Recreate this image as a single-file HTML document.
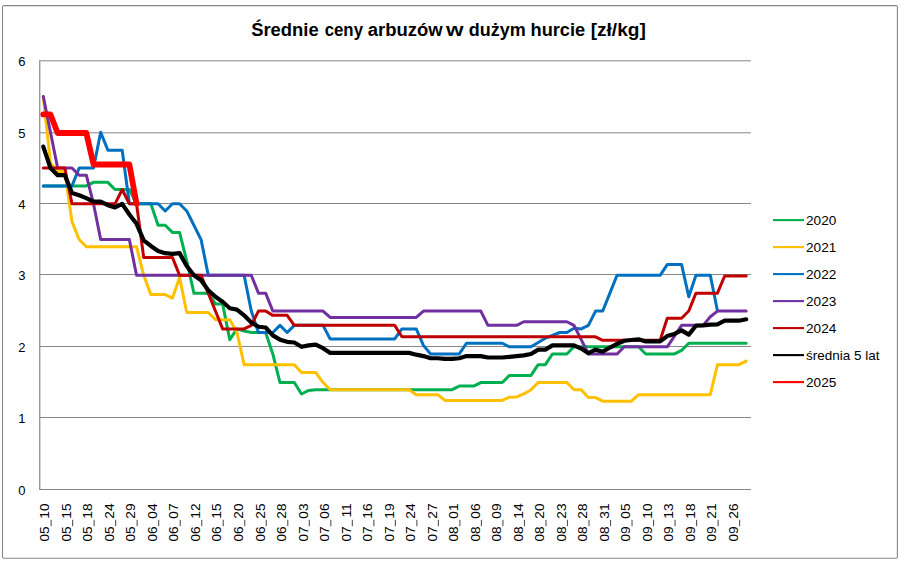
<!DOCTYPE html>
<html><head><meta charset="utf-8"><title>chart</title>
<style>
html,body{margin:0;padding:0;background:#fff;}
body{width:900px;height:562px;overflow:hidden;font-family:"Liberation Sans",sans-serif;}
svg{display:block;}
text{font-family:"Liberation Sans",sans-serif;fill:#000;}
</style></head><body>
<svg width="900" height="562" viewBox="0 0 900 562">
<rect x="0" y="0" width="900" height="562" fill="#fff"/>
<rect x="2.5" y="5.6" width="894.9" height="552.7" rx="1.5" ry="1.5" fill="#fff" stroke="#868686" stroke-width="1.1"/>

<line x1="39.75" y1="489.50" x2="751.00" y2="489.50" stroke="#868686" stroke-width="1"/>
<line x1="39.75" y1="417.50" x2="751.00" y2="417.50" stroke="#868686" stroke-width="1"/>
<line x1="39.75" y1="346.50" x2="751.00" y2="346.50" stroke="#868686" stroke-width="1"/>
<line x1="39.75" y1="274.50" x2="751.00" y2="274.50" stroke="#868686" stroke-width="1"/>
<line x1="39.75" y1="203.50" x2="751.00" y2="203.50" stroke="#868686" stroke-width="1"/>
<line x1="39.75" y1="132.80" x2="751.00" y2="132.80" stroke="#868686" stroke-width="1"/>
<line x1="39.75" y1="60.80" x2="751.00" y2="60.80" stroke="#868686" stroke-width="1"/>
<line x1="39.75" y1="60.30" x2="39.75" y2="490.00" stroke="#868686" stroke-width="1.2"/>
<text x="21.9" y="495.10" font-size="13" text-anchor="middle">0</text>
<text x="21.9" y="423.10" font-size="13" text-anchor="middle">1</text>
<text x="21.9" y="352.10" font-size="13" text-anchor="middle">2</text>
<text x="21.9" y="280.10" font-size="13" text-anchor="middle">3</text>
<text x="21.9" y="209.10" font-size="13" text-anchor="middle">4</text>
<text x="21.9" y="138.40" font-size="13" text-anchor="middle">5</text>
<text x="21.9" y="66.40" font-size="13" text-anchor="middle">6</text>
<g transform="translate(49.35,503.9) rotate(-90)" font-size="13.7"><text x="0.5" y="0" text-anchor="end">10</text><text x="-37.7" y="0" text-anchor="start">05</text><rect x="-22.3" y="1.2" width="6.4" height="1.1" fill="#555"/></g>
<g transform="translate(70.87,503.9) rotate(-90)" font-size="13.7"><text x="0.5" y="0" text-anchor="end">15</text><text x="-37.7" y="0" text-anchor="start">05</text><rect x="-22.3" y="1.2" width="6.4" height="1.1" fill="#555"/></g>
<g transform="translate(92.38,503.9) rotate(-90)" font-size="13.7"><text x="0.5" y="0" text-anchor="end">18</text><text x="-37.7" y="0" text-anchor="start">05</text><rect x="-22.3" y="1.2" width="6.4" height="1.1" fill="#555"/></g>
<g transform="translate(113.90,503.9) rotate(-90)" font-size="13.7"><text x="0.5" y="0" text-anchor="end">24</text><text x="-37.7" y="0" text-anchor="start">05</text><rect x="-22.3" y="1.2" width="6.4" height="1.1" fill="#555"/></g>
<g transform="translate(135.41,503.9) rotate(-90)" font-size="13.7"><text x="0.5" y="0" text-anchor="end">29</text><text x="-37.7" y="0" text-anchor="start">05</text><rect x="-22.3" y="1.2" width="6.4" height="1.1" fill="#555"/></g>
<g transform="translate(156.93,503.9) rotate(-90)" font-size="13.7"><text x="0.5" y="0" text-anchor="end">04</text><text x="-37.7" y="0" text-anchor="start">06</text><rect x="-22.3" y="1.2" width="6.4" height="1.1" fill="#555"/></g>
<g transform="translate(178.45,503.9) rotate(-90)" font-size="13.7"><text x="0.5" y="0" text-anchor="end">07</text><text x="-37.7" y="0" text-anchor="start">06</text><rect x="-22.3" y="1.2" width="6.4" height="1.1" fill="#555"/></g>
<g transform="translate(199.96,503.9) rotate(-90)" font-size="13.7"><text x="0.5" y="0" text-anchor="end">12</text><text x="-37.7" y="0" text-anchor="start">06</text><rect x="-22.3" y="1.2" width="6.4" height="1.1" fill="#555"/></g>
<g transform="translate(221.48,503.9) rotate(-90)" font-size="13.7"><text x="0.5" y="0" text-anchor="end">15</text><text x="-37.7" y="0" text-anchor="start">06</text><rect x="-22.3" y="1.2" width="6.4" height="1.1" fill="#555"/></g>
<g transform="translate(242.99,503.9) rotate(-90)" font-size="13.7"><text x="0.5" y="0" text-anchor="end">20</text><text x="-37.7" y="0" text-anchor="start">06</text><rect x="-22.3" y="1.2" width="6.4" height="1.1" fill="#555"/></g>
<g transform="translate(264.51,503.9) rotate(-90)" font-size="13.7"><text x="0.5" y="0" text-anchor="end">25</text><text x="-37.7" y="0" text-anchor="start">06</text><rect x="-22.3" y="1.2" width="6.4" height="1.1" fill="#555"/></g>
<g transform="translate(286.03,503.9) rotate(-90)" font-size="13.7"><text x="0.5" y="0" text-anchor="end">28</text><text x="-37.7" y="0" text-anchor="start">06</text><rect x="-22.3" y="1.2" width="6.4" height="1.1" fill="#555"/></g>
<g transform="translate(307.54,503.9) rotate(-90)" font-size="13.7"><text x="0.5" y="0" text-anchor="end">03</text><text x="-37.7" y="0" text-anchor="start">07</text><rect x="-22.3" y="1.2" width="6.4" height="1.1" fill="#555"/></g>
<g transform="translate(329.06,503.9) rotate(-90)" font-size="13.7"><text x="0.5" y="0" text-anchor="end">06</text><text x="-37.7" y="0" text-anchor="start">07</text><rect x="-22.3" y="1.2" width="6.4" height="1.1" fill="#555"/></g>
<g transform="translate(350.57,503.9) rotate(-90)" font-size="13.7"><text x="0.5" y="0" text-anchor="end">11</text><text x="-37.7" y="0" text-anchor="start">07</text><rect x="-22.3" y="1.2" width="6.4" height="1.1" fill="#555"/></g>
<g transform="translate(372.09,503.9) rotate(-90)" font-size="13.7"><text x="0.5" y="0" text-anchor="end">16</text><text x="-37.7" y="0" text-anchor="start">07</text><rect x="-22.3" y="1.2" width="6.4" height="1.1" fill="#555"/></g>
<g transform="translate(393.61,503.9) rotate(-90)" font-size="13.7"><text x="0.5" y="0" text-anchor="end">19</text><text x="-37.7" y="0" text-anchor="start">07</text><rect x="-22.3" y="1.2" width="6.4" height="1.1" fill="#555"/></g>
<g transform="translate(415.12,503.9) rotate(-90)" font-size="13.7"><text x="0.5" y="0" text-anchor="end">24</text><text x="-37.7" y="0" text-anchor="start">07</text><rect x="-22.3" y="1.2" width="6.4" height="1.1" fill="#555"/></g>
<g transform="translate(436.64,503.9) rotate(-90)" font-size="13.7"><text x="0.5" y="0" text-anchor="end">27</text><text x="-37.7" y="0" text-anchor="start">07</text><rect x="-22.3" y="1.2" width="6.4" height="1.1" fill="#555"/></g>
<g transform="translate(458.15,503.9) rotate(-90)" font-size="13.7"><text x="0.5" y="0" text-anchor="end">01</text><text x="-37.7" y="0" text-anchor="start">08</text><rect x="-22.3" y="1.2" width="6.4" height="1.1" fill="#555"/></g>
<g transform="translate(479.67,503.9) rotate(-90)" font-size="13.7"><text x="0.5" y="0" text-anchor="end">06</text><text x="-37.7" y="0" text-anchor="start">08</text><rect x="-22.3" y="1.2" width="6.4" height="1.1" fill="#555"/></g>
<g transform="translate(501.19,503.9) rotate(-90)" font-size="13.7"><text x="0.5" y="0" text-anchor="end">09</text><text x="-37.7" y="0" text-anchor="start">08</text><rect x="-22.3" y="1.2" width="6.4" height="1.1" fill="#555"/></g>
<g transform="translate(522.70,503.9) rotate(-90)" font-size="13.7"><text x="0.5" y="0" text-anchor="end">14</text><text x="-37.7" y="0" text-anchor="start">08</text><rect x="-22.3" y="1.2" width="6.4" height="1.1" fill="#555"/></g>
<g transform="translate(544.22,503.9) rotate(-90)" font-size="13.7"><text x="0.5" y="0" text-anchor="end">20</text><text x="-37.7" y="0" text-anchor="start">08</text><rect x="-22.3" y="1.2" width="6.4" height="1.1" fill="#555"/></g>
<g transform="translate(565.73,503.9) rotate(-90)" font-size="13.7"><text x="0.5" y="0" text-anchor="end">23</text><text x="-37.7" y="0" text-anchor="start">08</text><rect x="-22.3" y="1.2" width="6.4" height="1.1" fill="#555"/></g>
<g transform="translate(587.25,503.9) rotate(-90)" font-size="13.7"><text x="0.5" y="0" text-anchor="end">28</text><text x="-37.7" y="0" text-anchor="start">08</text><rect x="-22.3" y="1.2" width="6.4" height="1.1" fill="#555"/></g>
<g transform="translate(608.77,503.9) rotate(-90)" font-size="13.7"><text x="0.5" y="0" text-anchor="end">31</text><text x="-37.7" y="0" text-anchor="start">08</text><rect x="-22.3" y="1.2" width="6.4" height="1.1" fill="#555"/></g>
<g transform="translate(630.28,503.9) rotate(-90)" font-size="13.7"><text x="0.5" y="0" text-anchor="end">05</text><text x="-37.7" y="0" text-anchor="start">09</text><rect x="-22.3" y="1.2" width="6.4" height="1.1" fill="#555"/></g>
<g transform="translate(651.80,503.9) rotate(-90)" font-size="13.7"><text x="0.5" y="0" text-anchor="end">10</text><text x="-37.7" y="0" text-anchor="start">09</text><rect x="-22.3" y="1.2" width="6.4" height="1.1" fill="#555"/></g>
<g transform="translate(673.31,503.9) rotate(-90)" font-size="13.7"><text x="0.5" y="0" text-anchor="end">13</text><text x="-37.7" y="0" text-anchor="start">09</text><rect x="-22.3" y="1.2" width="6.4" height="1.1" fill="#555"/></g>
<g transform="translate(694.83,503.9) rotate(-90)" font-size="13.7"><text x="0.5" y="0" text-anchor="end">18</text><text x="-37.7" y="0" text-anchor="start">09</text><rect x="-22.3" y="1.2" width="6.4" height="1.1" fill="#555"/></g>
<g transform="translate(716.35,503.9) rotate(-90)" font-size="13.7"><text x="0.5" y="0" text-anchor="end">21</text><text x="-37.7" y="0" text-anchor="start">09</text><rect x="-22.3" y="1.2" width="6.4" height="1.1" fill="#555"/></g>
<g transform="translate(737.86,503.9) rotate(-90)" font-size="13.7"><text x="0.5" y="0" text-anchor="end">26</text><text x="-37.7" y="0" text-anchor="start">09</text><rect x="-22.3" y="1.2" width="6.4" height="1.1" fill="#555"/></g>
<text x="251.2" y="36.2" font-size="17.6" font-weight="bold" textLength="67.5" lengthAdjust="spacingAndGlyphs">Średnie</text>
<text x="324.7" y="36.2" font-size="17.6" font-weight="bold" textLength="38.3" lengthAdjust="spacingAndGlyphs">ceny</text>
<text x="367.8" y="36.2" font-size="17.6" font-weight="bold" textLength="74.9" lengthAdjust="spacingAndGlyphs">arbuzów</text>
<text x="445.9" y="36.2" font-size="17.6" font-weight="bold" textLength="17.5" lengthAdjust="spacingAndGlyphs">w</text>
<text x="468.7" y="36.2" font-size="17.6" font-weight="bold" textLength="57.0" lengthAdjust="spacingAndGlyphs">dużym</text>
<text x="530.5" y="36.2" font-size="17.6" font-weight="bold" textLength="54.7" lengthAdjust="spacingAndGlyphs">hurcie</text>
<text x="590.7" y="36.2" font-size="17.6" font-weight="bold" textLength="55.1" lengthAdjust="spacingAndGlyphs">[zł/kg]</text>
<polyline fill="none" stroke="#00B050" stroke-width="3.0" stroke-linejoin="round" stroke-linecap="round" points="43.30,185.93 50.47,185.93 57.64,185.93 64.82,185.93 71.99,185.93 79.16,185.93 86.33,185.93 93.50,182.35 100.68,182.35 107.85,182.35 115.02,189.50 122.19,189.50 129.36,189.50 136.54,203.80 143.71,203.80 150.88,203.80 158.05,225.25 165.22,225.25 172.40,232.40 179.57,232.40 186.74,261.00 193.91,293.18 201.08,293.18 208.26,293.18 215.43,303.90 222.60,303.90 229.77,339.65 236.94,328.93 244.12,331.07 251.29,332.50 258.46,332.50 265.63,332.50 272.80,353.95 279.98,382.55 287.15,382.55 294.32,382.55 301.49,393.99 308.66,390.42 315.84,389.70 323.01,389.70 330.18,389.70 337.35,389.70 344.52,389.70 351.70,389.70 358.87,389.70 366.04,389.70 373.21,389.70 380.38,389.70 387.56,389.70 394.73,389.70 401.90,389.70 409.07,389.70 416.24,389.70 423.42,389.70 430.59,389.70 437.76,389.70 444.93,389.70 452.10,389.70 459.28,386.12 466.45,386.12 473.62,386.12 480.79,382.55 487.96,382.55 495.14,382.55 502.31,382.55 509.48,375.40 516.65,375.40 523.82,375.40 531.00,375.40 538.17,364.68 545.34,364.68 552.51,353.95 559.68,353.95 566.86,353.95 574.03,346.80 581.20,346.80 588.37,346.80 595.54,346.80 602.72,346.80 609.89,346.80 617.06,346.80 624.23,346.80 631.40,346.80 638.58,346.80 645.75,353.95 652.92,353.95 660.09,353.95 667.26,353.95 674.44,353.95 681.61,350.38 688.78,343.23 695.95,343.23 703.12,343.23 710.30,343.23 717.47,343.23 724.64,343.23 731.81,343.23 738.98,343.23 746.16,343.23"/>
<polyline fill="none" stroke="#FFC000" stroke-width="3.0" stroke-linejoin="round" stroke-linecap="round" points="43.30,96.55 50.47,163.04 57.64,171.62 64.82,171.62 71.99,221.68 79.16,239.55 86.33,246.70 93.50,246.70 100.68,246.70 107.85,246.70 115.02,246.70 122.19,246.70 129.36,246.70 136.54,246.70 143.71,275.30 150.88,294.61 158.05,294.61 165.22,294.61 172.40,298.18 179.57,277.44 186.74,312.48 193.91,312.48 201.08,312.48 208.26,312.48 215.43,319.63 222.60,319.63 229.77,319.63 236.94,332.50 244.12,364.68 251.29,364.68 258.46,364.68 265.63,364.68 272.80,364.68 279.98,364.68 287.15,364.68 294.32,364.68 301.49,372.54 308.66,372.54 315.84,372.54 323.01,382.55 330.18,389.70 337.35,389.70 344.52,389.70 351.70,389.70 358.87,389.70 366.04,389.70 373.21,389.70 380.38,389.70 387.56,389.70 394.73,389.70 401.90,389.70 409.07,389.70 416.24,394.70 423.42,394.70 430.59,394.70 437.76,394.70 444.93,400.43 452.10,400.43 459.28,400.43 466.45,400.43 473.62,400.43 480.79,400.43 487.96,400.43 495.14,400.43 502.31,400.43 509.48,397.21 516.65,396.99 523.82,393.99 531.00,389.70 538.17,382.55 545.34,382.55 552.51,382.55 559.68,382.55 566.86,382.55 574.03,389.70 581.20,389.70 588.37,397.56 595.54,397.56 602.72,401.14 609.89,401.14 617.06,401.14 624.23,401.14 631.40,401.14 638.58,394.70 645.75,394.70 652.92,394.70 660.09,394.70 667.26,394.70 674.44,394.70 681.61,394.70 688.78,394.70 695.95,394.70 703.12,394.70 710.30,394.70 717.47,364.68 724.64,364.68 731.81,364.68 738.98,364.68 746.16,361.10"/>
<polyline fill="none" stroke="#0070C0" stroke-width="3.0" stroke-linejoin="round" stroke-linecap="round" points="43.30,185.93 50.47,185.93 57.64,185.93 64.82,185.93 71.99,185.93 79.16,168.05 86.33,168.05 93.50,168.05 100.68,132.30 107.85,150.18 115.02,150.18 122.19,150.18 129.36,203.80 136.54,203.80 143.71,203.80 150.88,203.80 158.05,203.80 165.22,210.95 172.40,203.80 179.57,203.80 186.74,210.95 193.91,225.25 201.08,239.55 208.26,275.30 215.43,275.30 222.60,275.30 229.77,275.30 236.94,275.30 244.12,275.30 251.29,311.05 258.46,332.50 265.63,332.50 272.80,332.50 279.98,325.35 287.15,332.50 294.32,325.35 301.49,325.35 308.66,325.35 315.84,325.35 323.01,325.35 330.18,338.94 337.35,338.94 344.52,338.94 351.70,338.94 358.87,338.94 366.04,338.94 373.21,338.94 380.38,338.94 387.56,338.94 394.73,338.94 401.90,328.93 409.07,328.93 416.24,328.93 423.42,345.37 430.59,353.95 437.76,353.95 444.93,353.95 452.10,353.95 459.28,353.95 466.45,343.23 473.62,343.23 480.79,343.23 487.96,343.23 495.14,343.23 502.31,343.23 509.48,346.80 516.65,346.80 523.82,346.80 531.00,346.80 538.17,342.51 545.34,338.22 552.51,335.36 559.68,332.50 566.86,332.50 574.03,328.21 581.20,328.93 588.37,325.35 595.54,311.05 602.72,311.05 609.89,293.18 617.06,275.30 624.23,275.30 631.40,275.30 638.58,275.30 645.75,275.30 652.92,275.30 660.09,275.30 667.26,264.58 674.44,264.58 681.61,264.58 688.78,296.75 695.95,275.30 703.12,275.30 710.30,275.30 717.47,311.05"/>
<polyline fill="none" stroke="#7030A0" stroke-width="3.0" stroke-linejoin="round" stroke-linecap="round" points="43.30,96.55 50.47,132.30 57.64,168.05 64.82,168.05 71.99,168.05 79.16,175.20 86.33,175.20 93.50,203.80 100.68,239.55 107.85,239.55 115.02,239.55 122.19,239.55 129.36,239.55 136.54,275.30 143.71,275.30 150.88,275.30 158.05,275.30 165.22,275.30 172.40,275.30 179.57,275.30 186.74,275.30 193.91,275.30 201.08,275.30 208.26,275.30 215.43,275.30 222.60,275.30 229.77,275.30 236.94,275.30 244.12,275.30 251.29,275.30 258.46,293.18 265.63,293.18 272.80,311.05 279.98,311.05 287.15,311.05 294.32,311.05 301.49,311.05 308.66,311.05 315.84,311.05 323.01,311.05 330.18,317.49 337.35,317.49 344.52,317.49 351.70,317.49 358.87,317.49 366.04,317.49 373.21,317.49 380.38,317.49 387.56,317.49 394.73,317.49 401.90,317.49 409.07,317.49 416.24,317.49 423.42,311.05 430.59,311.05 437.76,311.05 444.93,311.05 452.10,311.05 459.28,311.05 466.45,311.05 473.62,311.05 480.79,311.05 487.96,325.35 495.14,325.35 502.31,325.35 509.48,325.35 516.65,325.35 523.82,321.77 531.00,321.77 538.17,321.77 545.34,321.77 552.51,321.77 559.68,321.77 566.86,321.77 574.03,325.35 581.20,339.65 588.37,353.95 595.54,353.95 602.72,353.95 609.89,353.95 617.06,353.95 624.23,346.80 631.40,346.80 638.58,346.80 645.75,346.80 652.92,346.80 660.09,346.80 667.26,346.80 674.44,336.08 681.61,325.35 688.78,325.35 695.95,325.35 703.12,325.35 710.30,316.77 717.47,311.05 724.64,311.05 731.81,311.05 738.98,311.05 746.16,311.05"/>
<polyline fill="none" stroke="#C00000" stroke-width="3.0" stroke-linejoin="round" stroke-linecap="round" points="43.30,168.05 50.47,168.05 57.64,168.05 64.82,168.05 71.99,203.80 79.16,203.80 86.33,203.80 93.50,203.80 100.68,203.80 107.85,203.80 115.02,203.80 122.19,189.50 129.36,203.80 136.54,203.80 143.71,257.43 150.88,257.43 158.05,257.43 165.22,257.43 172.40,257.43 179.57,275.30 186.74,275.30 193.91,275.30 201.08,275.30 208.26,293.18 215.43,311.05 222.60,328.93 229.77,328.93 236.94,328.93 244.12,328.93 251.29,325.35 258.46,311.05 265.63,311.05 272.80,315.34 279.98,315.34 287.15,315.34 294.32,325.35 301.49,325.35 308.66,325.35 315.84,325.35 323.01,325.35 330.18,325.35 337.35,325.35 344.52,325.35 351.70,325.35 358.87,325.35 366.04,325.35 373.21,325.35 380.38,325.35 387.56,325.35 394.73,325.35 401.90,336.79 409.07,336.79 416.24,336.79 423.42,336.79 430.59,336.79 437.76,336.79 444.93,336.79 452.10,336.79 459.28,336.79 466.45,336.79 473.62,336.79 480.79,336.79 487.96,336.79 495.14,336.79 502.31,336.79 509.48,336.79 516.65,336.79 523.82,336.79 531.00,336.79 538.17,336.79 545.34,336.79 552.51,336.79 559.68,336.79 566.86,336.79 574.03,336.79 581.20,336.79 588.37,336.79 595.54,336.79 602.72,340.37 609.89,340.37 617.06,340.37 624.23,340.37 631.40,340.37 638.58,340.37 645.75,340.37 652.92,340.37 660.09,340.37 667.26,318.20 674.44,318.20 681.61,318.20 688.78,311.05 695.95,293.18 703.12,293.18 710.30,293.18 717.47,293.18 724.64,276.01 731.81,276.01 738.98,276.01 746.16,276.01"/>
<polyline fill="none" stroke="#000000" stroke-width="4.2" stroke-linejoin="round" stroke-linecap="round" points="43.30,146.60 50.47,168.05 57.64,175.20 64.82,175.20 71.99,193.07 79.16,195.22 86.33,198.08 93.50,201.65 100.68,201.65 107.85,205.23 115.02,207.38 122.19,203.80 129.36,214.52 136.54,223.82 143.71,240.27 150.88,245.98 158.05,250.99 165.22,253.14 172.40,253.85 179.57,253.14 186.74,266.00 193.91,275.30 201.08,280.31 208.26,290.31 215.43,296.75 222.60,301.75 229.77,308.19 236.94,309.62 244.12,315.34 251.29,322.49 258.46,326.78 265.63,327.50 272.80,335.36 279.98,339.65 287.15,341.80 294.32,342.51 301.49,346.80 308.66,345.37 315.84,344.66 323.01,348.23 330.18,352.88 337.35,352.88 344.52,352.88 351.70,352.88 358.87,352.88 366.04,352.88 373.21,352.88 380.38,352.88 387.56,352.88 394.73,352.88 401.90,352.88 409.07,352.88 416.24,354.67 423.42,356.10 430.59,358.24 437.76,358.24 444.93,358.96 452.10,358.96 459.28,358.24 466.45,356.10 473.62,356.10 480.79,356.10 487.96,357.52 495.14,357.52 502.31,357.52 509.48,356.81 516.65,356.10 523.82,355.38 531.00,353.95 538.17,349.66 545.34,349.66 552.51,345.37 559.68,345.37 566.86,345.37 574.03,345.37 581.20,348.59 588.37,353.24 595.54,349.66 602.72,351.81 609.89,347.51 617.06,343.94 624.23,340.72 631.40,340.01 638.58,339.29 645.75,341.44 652.92,341.44 660.09,341.44 667.26,336.08 674.44,333.93 681.61,330.36 688.78,334.64 695.95,325.71 703.12,325.35 710.30,324.63 717.47,324.28 724.64,320.70 731.81,320.70 738.98,320.70 746.16,319.27"/>
<polyline fill="none" stroke="#FF0000" stroke-width="5.8" stroke-linejoin="round" stroke-linecap="round" points="43.30,114.43 50.47,114.43 57.64,133.01 64.82,133.01 71.99,133.01 79.16,133.01 86.33,133.01 93.50,164.48 100.68,164.48 107.85,164.48 115.02,164.48 122.19,164.48 129.36,164.48 136.54,203.80"/>
<line x1="773" y1="220.1" x2="804" y2="220.1" stroke="#00B050" stroke-width="2.1"/>
<text x="806" y="224.8" font-size="13.2" textLength="30.3" lengthAdjust="spacingAndGlyphs">2020</text>
<line x1="773" y1="247.1" x2="804" y2="247.1" stroke="#FFC000" stroke-width="2.1"/>
<text x="806" y="251.8" font-size="13.2" textLength="30.3" lengthAdjust="spacingAndGlyphs">2021</text>
<line x1="773" y1="274.1" x2="804" y2="274.1" stroke="#0070C0" stroke-width="2.1"/>
<text x="806" y="278.8" font-size="13.2" textLength="30.3" lengthAdjust="spacingAndGlyphs">2022</text>
<line x1="773" y1="301.1" x2="804" y2="301.1" stroke="#7030A0" stroke-width="2.1"/>
<text x="806" y="305.8" font-size="13.2" textLength="30.3" lengthAdjust="spacingAndGlyphs">2023</text>
<line x1="773" y1="328.1" x2="804" y2="328.1" stroke="#C00000" stroke-width="2.1"/>
<text x="806" y="332.8" font-size="13.2" textLength="30.3" lengthAdjust="spacingAndGlyphs">2024</text>
<line x1="773" y1="355.1" x2="804" y2="355.1" stroke="#000000" stroke-width="2.1"/>
<text x="806" y="359.8" font-size="13.2" textLength="73.4" lengthAdjust="spacingAndGlyphs">średnia 5 lat</text>
<line x1="773" y1="382.1" x2="804" y2="382.1" stroke="#FF0000" stroke-width="2.1"/>
<text x="806" y="386.8" font-size="13.2" textLength="30.3" lengthAdjust="spacingAndGlyphs">2025</text>
</svg></body></html>
